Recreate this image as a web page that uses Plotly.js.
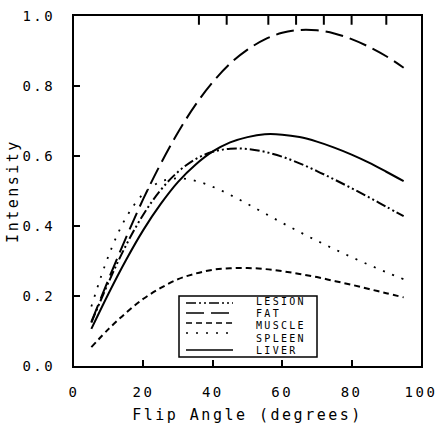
<!DOCTYPE html>
<html>
<head>
<meta charset="utf-8">
<script src="https://cdn.plot.ly/plotly-3.0.1.min.js"></script>
<style>
html,body{margin:0;padding:0;background:#fff;}
#chart{width:440px;height:437px;}
.xtick text,.ytick text,.g-xtitle text,.g-ytitle text{letter-spacing:2.5px;}
.annotation-text{letter-spacing:2.3px;}
</style>
</head>
<body>
<div id="chart"></div>
<script>
// Flip angle (degrees)
const flipAngle = [5,10,15,20,25,30,35,40,45,50,55,60,65,70,75,80,85,90,95];
// Intensity curves
const lesion = [0.124,0.240,0.345,0.433,0.503,0.555,0.591,0.612,0.621,0.620,0.612,0.598,0.579,0.557,0.533,0.508,0.482,0.455,0.428];
const fat    = [0.126,0.249,0.367,0.478,0.578,0.668,0.746,0.811,0.864,0.904,0.933,0.952,0.960,0.959,0.950,0.934,0.912,0.885,0.852];
const muscle = [0.054,0.106,0.152,0.192,0.223,0.248,0.264,0.275,0.279,0.280,0.277,0.271,0.263,0.254,0.243,0.232,0.220,0.208,0.196];
const spleen = [0.170,0.316,0.424,0.492,0.527,0.536,0.529,0.512,0.489,0.463,0.436,0.409,0.383,0.358,0.334,0.311,0.289,0.268,0.248];
const liver  = [0.106,0.208,0.303,0.389,0.463,0.526,0.575,0.613,0.639,0.654,0.662,0.661,0.654,0.641,0.624,0.604,0.581,0.555,0.528];
const seriesNames = ['LESION','FAT','MUSCLE','SPLEEN','LIVER'];
const seriesData = [lesion, fat, muscle, spleen, liver];
const xTicks = [0,20,40,60,80,100];
const yTicks = [0.0,0.2,0.4,0.6,0.8,1.0];
const topTicks = [36,44,56,64,72,80,90];

const dashes = ['10px,3px,2px,3px,2px,3px','18px,7px','6px,4px','2px,8px','solid'];
const widths = [2,2,2,1.8,2];

const traces = seriesData.map((ys,i)=>({
  type:'scatter', mode:'lines', x:flipAngle, y:ys, name:seriesNames[i],
  line:{color:'#000', width:widths[i], dash:dashes[i], shape:'spline'},
  showlegend:false, hoverinfo:'skip'
}));

// legend drawn in paper coordinates
const shapes = [{type:'rect', xref:'paper', yref:'paper', x0:0.3026, x1:0.7003, y0:0.0257, y1:0.2,
  line:{color:'#000', width:1.5}, fillcolor:'#fff', layer:'below'}];
const annotations = [];
const sampleY = [0.18,0.1514,0.1229,0.0943,0.0457];
const textY = [0.1829,0.1486,0.1143,0.08,0.0457];
seriesNames.forEach((n,i)=>{
  shapes.push({type:'line', xref:'paper', yref:'paper', x0:0.3228, x1:0.4582, y0:sampleY[i], y1:sampleY[i],
    line:{color:'#000', width:widths[i]*0.8, dash:dashes[i]}});
  annotations.push({xref:'paper', yref:'paper', x:0.5216, y:textY[i], xanchor:'left', yanchor:'middle',
    text:n, showarrow:false, borderpad:0, font:{family:'DejaVu Sans Mono', size:10, color:'#000'}});
});
// tick marks along the top frame, placed through the x scale
topTicks.forEach(t=>{
  shapes.push({type:'line', xref:'x', yref:'paper', x0:t, x1:t, y0:1, y1:0.975, layer:'above',
    line:{color:'#000', width:2}});
});

const tickFont = {family:'DejaVu Sans Mono', size:14, color:'#000'};
const layout = {
  width:440, height:437,
  margin:{l:74, r:19, t:16, b:71},
  paper_bgcolor:'#fff', plot_bgcolor:'#fff',
  showlegend:false,
  xaxis:{range:[0,100], tickvals:xTicks, ticktext:xTicks.map(String), ticks:'inside', ticklen:6, tickwidth:2, tickcolor:'#000',
    showline:true, linewidth:2, linecolor:'#000', mirror:true, showgrid:false, zeroline:false,
    tickfont:tickFont, ticklabelstandoff:12,
    title:{text:'Flip Angle (degrees)', font:{family:'DejaVu Sans Mono', size:15, color:'#000'}, standoff:11}},
  yaxis:{range:[0,1], tickvals:yTicks, ticktext:yTicks.map(v=>v.toFixed(1)), ticks:'inside', ticklen:6, tickwidth:2, tickcolor:'#000',
    showline:true, linewidth:2, linecolor:'#000', mirror:true, showgrid:false, zeroline:false,
    tickfont:tickFont, ticklabelstandoff:14,
    title:{text:'Intensity', font:{family:'DejaVu Sans Mono', size:15, color:'#000'}, standoff:0}},
  shapes:shapes, annotations:annotations
};
Plotly.newPlot('chart', traces, layout, {staticPlot:true, displayModeBar:false});
</script>
</body>
</html>
